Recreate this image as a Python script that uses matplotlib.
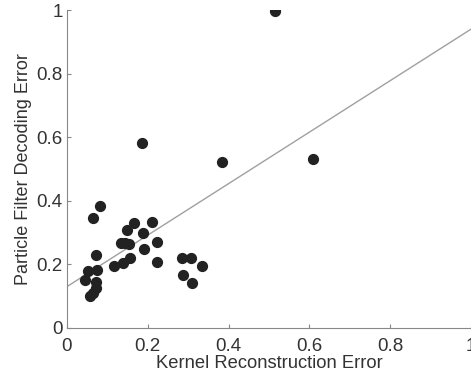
import numpy as np
import matplotlib.pyplot as plt

plt.rcParams['font.family'] = ['Liberation Sans', 'DejaVu Sans']

# kernel reconstruction error vs particle filter decoding error
kernel_err = [0.383, 0.608, 0.082, 0.065, 0.167, 0.210, 0.149, 0.189, 0.134, 0.144,
              0.154, 0.224, 0.190, 0.073, 0.156, 0.139, 0.116, 0.224, 0.284, 0.307,
              0.335, 0.288, 0.310, 0.053, 0.075, 0.045, 0.072, 0.073, 0.064, 0.057,
              0.185, 0.515]
decode_err = [0.523, 0.533, 0.384, 0.345, 0.329, 0.332, 0.307, 0.298, 0.266, 0.266,
              0.263, 0.269, 0.248, 0.230, 0.219, 0.203, 0.196, 0.208, 0.221, 0.221,
              0.194, 0.166, 0.140, 0.179, 0.182, 0.151, 0.144, 0.127, 0.109, 0.101,
              0.583, 0.998]

# regression line end points
fit_x = [0, 1]
fit_y = [0.13, 0.94]

fig = plt.figure(figsize=(4.71, 3.74), dpi=100)
ax = fig.add_axes([0.142, 0.123, 0.858, 0.85])

ax.plot(fit_x, fit_y, color='#a0a0a0', linewidth=1)
ax.scatter(kernel_err, decode_err, s=50, color='#222222', zorder=3)

ax.set_xlim(0, 1)
ax.set_ylim(0, 1)
ax.set_xticks([0, 0.2, 0.4, 0.6, 0.8, 1])
ax.set_xticklabels(['0', '0.2', '0.4', '0.6', '0.8', '1'])
ax.set_yticks([0, 0.2, 0.4, 0.6, 0.8, 1])
ax.set_yticklabels(['0', '0.2', '0.4', '0.6', '0.8', '1'])

for side in ['top', 'right']:
    ax.spines[side].set_visible(False)
for side in ['left', 'bottom']:
    ax.spines[side].set_color('#888888')
ax.tick_params(direction='in', length=3, color='#888888', labelsize=13.5, labelcolor='#333333')
ax.tick_params(axis='x', pad=7)
ax.tick_params(axis='y', pad=3)

ax.set_xlabel('Kernel Reconstruction Error', fontsize=13.2, color='#333333', labelpad=0)
ax.set_ylabel('Particle Filter Decoding Error', fontsize=13, color='#333333', labelpad=3)

fig.savefig('out.png', dpi=100)
